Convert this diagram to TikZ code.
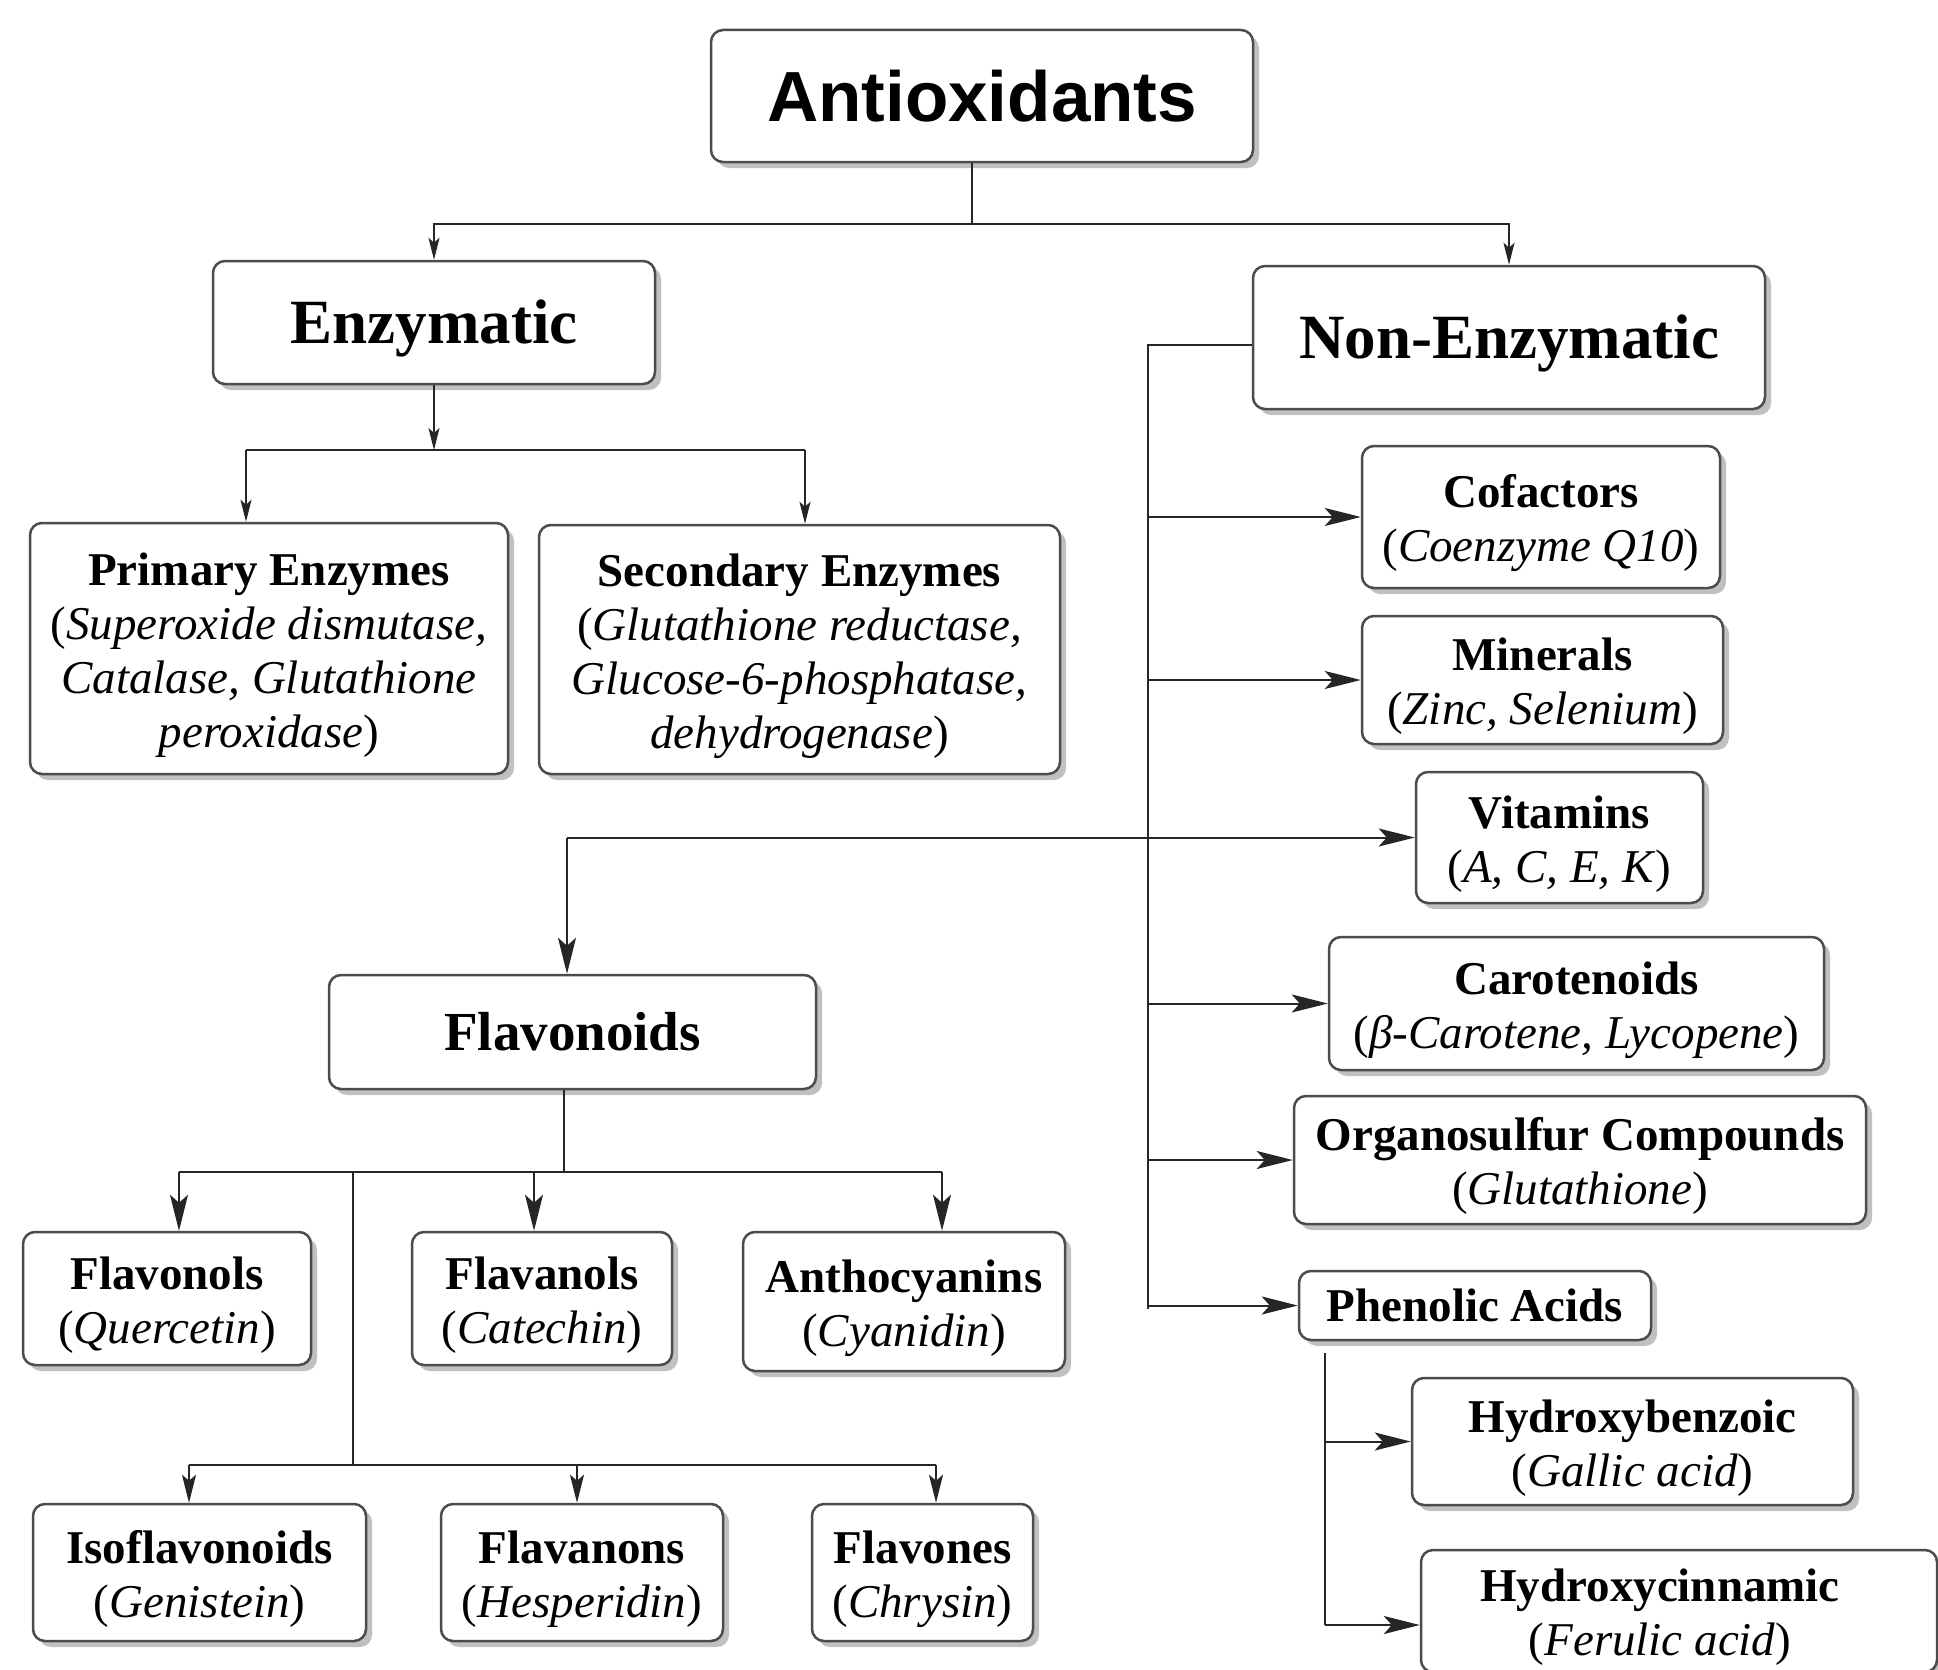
\documentclass[tikz,border=0pt]{standalone}
\usepackage{fontspec}
\setmainfont{Liberation Serif}
\newfontfamily\arialfont{Liberation Sans}
\usetikzlibrary{arrows.meta,shadows,calc}
\newcommand\lowtext[1]{\raisebox{0pt}[\dimexpr\height+14pt\relax][\depth]{\begin{tabular}{@{}c@{}}#1\end{tabular}}}
\begin{document}
\begin{tikzpicture}[x=1pt,y=-1pt,
  box/.style={draw=black!70, line width=2.5pt, rounded corners=12pt, fill=white,
    align=center, inner sep=0pt,
    drop shadow={shadow xshift=6pt, shadow yshift=-6pt, fill=black!35, opacity=0.7},
    font=\fontsize{47pt}{54pt}\selectfont},
  twoline/.style={box},
  bigtitle/.style={box, font=\bfseries\fontsize{63pt}{70pt}\selectfont, execute at begin node={\rule{0pt}{56pt}}},
  conn/.style={draw=black!85, line width=2pt},
  bigarrow/.style={-{Stealth[length=36pt,width=18pt,inset=8pt]}},
  midarrow/.style={-{Stealth[length=28pt,width=14pt,inset=6pt]}},
  smallarrow/.style={-{Stealth[length=22pt,width=11pt,inset=5pt]}}]
\fill[white] (0,0) rectangle (1938,1670);
\useasboundingbox (0,0) rectangle (1938,1670);
\clip (0,0) rectangle (1938,1670);

% nodes
\node[box, minimum width=542pt, minimum height=132pt, font=\arialfont\bfseries\fontsize{71pt}{80pt}\selectfont] (anti) at (982,96) {Antioxidants};
\node[bigtitle, minimum width=442pt, minimum height=123pt] (enz) at (434,322.5) {Enzymatic};
\node[bigtitle, minimum width=512pt, minimum height=143pt] (nonenz) at (1509,337.5) {Non-Enzymatic};

\node[twoline, minimum width=478pt, minimum height=251pt] (prim) at (269,648.5) {\lowtext{\textbf{Primary Enzymes}\\(\textit{Superoxide dismutase,}\\\textit{Catalase, Glutathione}\\\textit{peroxidase})}};
\node[twoline, minimum width=521pt, minimum height=249pt] (sec) at (799.5,649.5) {\lowtext{\textbf{Secondary Enzymes}\\(\textit{Glutathione reductase,}\\\textit{Glucose-6-phosphatase,}\\\textit{dehydrogenase})}};

\node[twoline, minimum width=358pt, minimum height=142pt] (cof) at (1541,517) {\lowtext{\textbf{Cofactors}\\(\textit{Coenzyme Q10})}};
\node[twoline, minimum width=361pt, minimum height=128pt] (min) at (1542.5,680) {\lowtext{\textbf{Minerals}\\(\textit{Zinc, Selenium})}};
\node[twoline, minimum width=287pt, minimum height=131pt] (vit) at (1559.5,837.5) {\lowtext{\textbf{Vitamins}\\(\textit{A, C, E, K})}};
\node[twoline, minimum width=495pt, minimum height=133pt] (car) at (1576.5,1003.5) {\lowtext{\textbf{Carotenoids}\\(\textit{β-Carotene, Lycopene})}};
\node[twoline, minimum width=572pt, minimum height=128pt] (org) at (1580,1160) {\lowtext{\textbf{Organosulfur Compounds}\\(\textit{Glutathione})}};
\node[box, minimum width=352pt, minimum height=69pt] (phen) at (1475,1305.5) {\textbf{Phenolic Acids}};
\node[twoline, minimum width=441pt, minimum height=127pt] (hb) at (1632.5,1441.5) {\lowtext{\textbf{Hydroxybenzoic}\\(\textit{Gallic acid})}};
\node[twoline, minimum width=516pt, minimum height=118pt] (hc) at (1679,1611) {\lowtext{\hspace*{-38pt}\textbf{Hydroxycinnamic}\\\hspace*{-38pt}(\textit{Ferulic acid})}};

\node[box, minimum width=487pt, minimum height=114pt, font=\bfseries\fontsize{55pt}{62pt}\selectfont] (flav) at (572.5,1032) {Flavonoids};
\node[twoline, minimum width=288pt, minimum height=133pt] (fnol) at (167,1298.5) {\lowtext{\textbf{Flavonols}\\(\textit{Quercetin})}};
\node[twoline, minimum width=260pt, minimum height=133pt] (fnal) at (542,1298.5) {\lowtext{\textbf{Flavanols}\\(\textit{Catechin})}};
\node[twoline, minimum width=322pt, minimum height=139pt] (anth) at (904,1301.5) {\lowtext{\textbf{Anthocyanins}\\(\textit{Cyanidin})}};
\node[twoline, minimum width=333pt, minimum height=137pt] (iso) at (199.5,1572.5) {\lowtext{\textbf{Isoflavonoids}\\(\textit{Genistein})}};
\node[twoline, minimum width=282pt, minimum height=137pt] (fnon) at (582,1572.5) {\lowtext{\textbf{Flavanons}\\(\textit{Hesperidin})}};
\node[twoline, minimum width=221pt, minimum height=137pt] (fone) at (922.5,1572.5) {\lowtext{\textbf{Flavones}\\(\textit{Chrysin})}};

% top level
\coordinate (jA) at (972,224);
\draw[conn] (anti.south -| jA) -- (jA);
\draw[conn,smallarrow] (jA) -| (enz.north);
\draw[conn,smallarrow] (jA) -| (nonenz.north);

% enzymatic
\coordinate (jE) at (434,450);
\coordinate (jEp) at (246,450);
\coordinate (jEs) at (805,450);
\draw[conn,smallarrow] (enz.south) -- (jE);
\draw[conn] (jEp) -- (jEs);
\draw[conn,smallarrow] (jEp) -- (jEp |- prim.north);
\draw[conn,smallarrow] (jEs) -- (jEs |- sec.north);

% non-enzymatic
\coordinate (jN) at (1148,345);
\coordinate (jNb) at (1148,1309);
\draw[conn] (nonenz.west |- jN) -- (jN) -- (jNb);
\draw[conn,bigarrow] (jN |- cof.west) -- (cof.west);
\draw[conn,bigarrow] (jN |- min.west) -- (min.west);
\draw[conn,bigarrow] (jN |- car.west) -- (car.west);
\draw[conn,bigarrow] (jN |- org.west) -- (org.west);
\draw[conn,bigarrow] (jN |- phen.west) -- (phen.west);

% vitamins / flavonoids
\coordinate (jV) at (567,837.5);
\draw[conn,bigarrow] (jV) -- (vit.west);
\draw[conn,bigarrow] (jV) -- (jV |- flav.north);

% phenolic acids
\coordinate (jP) at (1325,1353);
\coordinate (jPb) at (1325,1625);
\draw[conn] (jP) -- (jPb);
\draw[conn,bigarrow] (jP |- hb.west) -- (hb.west);
\draw[conn,bigarrow] (jPb) -- (jPb -| hc.west);

% flavonoid subclasses
\coordinate (jF) at (564,1172);
\coordinate (jF1) at (179,1172);
\coordinate (jF2) at (534,1172);
\coordinate (jF3) at (942,1172);
\draw[conn] (flav.south -| jF) -- (jF);
\draw[conn] (jF1) -- (jF3);
\draw[conn,bigarrow] (jF1) -- (jF1 |- fnol.north);
\draw[conn,bigarrow] (jF2) -- (jF2 |- fnal.north);
\draw[conn,bigarrow] (jF3) -- (jF3 |- anth.north);

\coordinate (jG) at (353,1172);
\coordinate (jGb) at (353,1465);
\coordinate (jG1) at (189,1465);
\coordinate (jG2) at (577,1465);
\coordinate (jG3) at (936,1465);
\draw[conn] (jG) -- (jGb);
\draw[conn] (jG1) -- (jG3);
\draw[conn,midarrow] (jG1) -- (jG1 |- iso.north);
\draw[conn,midarrow] (jG2) -- (jG2 |- fnon.north);
\draw[conn,midarrow] (jG3) -- (jG3 |- fone.north);
\end{tikzpicture}
\end{document}
